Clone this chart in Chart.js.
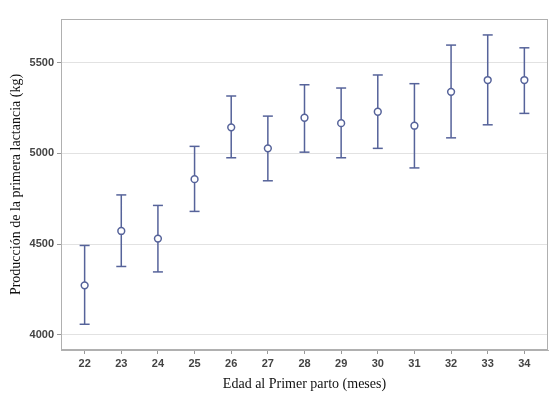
<!DOCTYPE html>
<html>
<head>
<meta charset="utf-8">
<script src="https://cdn.jsdelivr.net/npm/chart.js@4"></script>
<style>
  html, body { margin: 0; padding: 0; background: #fff; }
  #wrap { width: 557px; height: 396px; }
</style>
</head>
<body>
<div id="wrap"><canvas id="c" width="557" height="396"></canvas></div>
<script>
const categories = [22, 23, 24, 25, 26, 27, 28, 29, 30, 31, 32, 33, 34];
const means = [4272, 4572, 4530, 4858, 5144, 5028, 5197, 5167, 5230, 5153, 5340, 5405, 5405];
const lower = [4057, 4376, 4346, 4680, 4976, 4849, 5007, 4976, 5028, 4920, 5086, 5158, 5221];
const upper = [4492, 4771, 4713, 5039, 5317, 5206, 5379, 5361, 5433, 5385, 5598, 5654, 5583];
const yTicks = [4000, 4500, 5000, 5500];

const barColor = '#56639a';

const whiskerData = [];
categories.forEach((c, i) => {
  whiskerData.push({ x: c, y: lower[i] });
  whiskerData.push({ x: c, y: upper[i] });
  whiskerData.push({ x: c, y: null });
});
const capData = [];
categories.forEach((c, i) => {
  capData.push({ x: c, y: lower[i] });
  capData.push({ x: c, y: upper[i] });
});
const meanData = categories.map((c, i) => ({ x: c, y: means[i] }));

const framePlugin = {
  id: 'frame',
  afterDraw(chart) {
    const a = chart.chartArea, ctx = chart.ctx;
    ctx.save();
    ctx.strokeStyle = '#b0b0b0';
    ctx.lineWidth = 1;
    ctx.strokeRect(Math.round(a.left) + 0.5, Math.round(a.top) + 0.5,
      Math.round(a.right - a.left) - 1, Math.round(a.bottom - a.top) - 1);
    ctx.restore();
  }
};

new Chart(document.getElementById('c'), {
  type: 'scatter',
  data: {
    datasets: [
      {
        type: 'line',
        data: whiskerData,
        borderColor: barColor,
        borderWidth: 1.5,
        pointRadius: 0,
        spanGaps: false,
        order: 3
      },
      {
        data: capData,
        pointStyle: 'line',
        pointRadius: 5,
        borderColor: barColor,
        borderWidth: 1.5,
        order: 2
      },
      {
        data: meanData,
        pointStyle: 'circle',
        pointRadius: 3.4,
        borderColor: barColor,
        backgroundColor: '#ffffff',
        borderWidth: 1.5,
        order: 1
      }
    ]
  },
  options: {
    responsive: false,
    animation: false,
    layout: { padding: { top: 19, right: 9, left: 0, bottom: 0 } },
    plugins: { legend: { display: false }, tooltip: { enabled: false } },
    scales: {
      x: {
        type: 'linear',
        min: 21.355,
        max: 34.645,
        afterBuildTicks(scale) { scale.ticks = categories.map(v => ({ value: v })); },
        afterFit(scale) { scale.height = 46; },
        grid: { drawOnChartArea: false, drawTicks: true, tickLength: 4, tickColor: '#999' },
        border: { color: '#b0b0b0' },
        ticks: {
          color: '#444',
          font: { family: 'Liberation Sans', size: 11, weight: 'bold' },
          padding: 3,
          autoSkip: false,
          maxRotation: 0,
          callback: v => String(v)
        },
        title: {
          display: true,
          text: 'Edad al Primer parto (meses)',
          color: '#111',
          font: { family: 'Liberation Serif', size: 14 },
          padding: { top: 0, bottom: 3 }
        }
      },
      y: {
        min: 3915,
        max: 5742,
        afterBuildTicks(scale) { scale.ticks = yTicks.map(v => ({ value: v })); },
        afterFit(scale) { scale.width = 61; },
        grid: { color: '#e2e2e2', tickColor: '#999', tickLength: 4 },
        border: { color: '#b0b0b0' },
        ticks: {
          color: '#444',
          font: { family: 'Liberation Sans', size: 11, weight: 'bold' },
          padding: 3,
          callback: v => String(v)
        },
        title: {
          display: true,
          text: 'Producción de la primera lactancia (kg)',
          color: '#111',
          font: { family: 'Liberation Serif', size: 14 },
          padding: { top: 8, bottom: 0 }
        }
      }
    }
  },
  plugins: [framePlugin]
});
</script>
</body>
</html>
